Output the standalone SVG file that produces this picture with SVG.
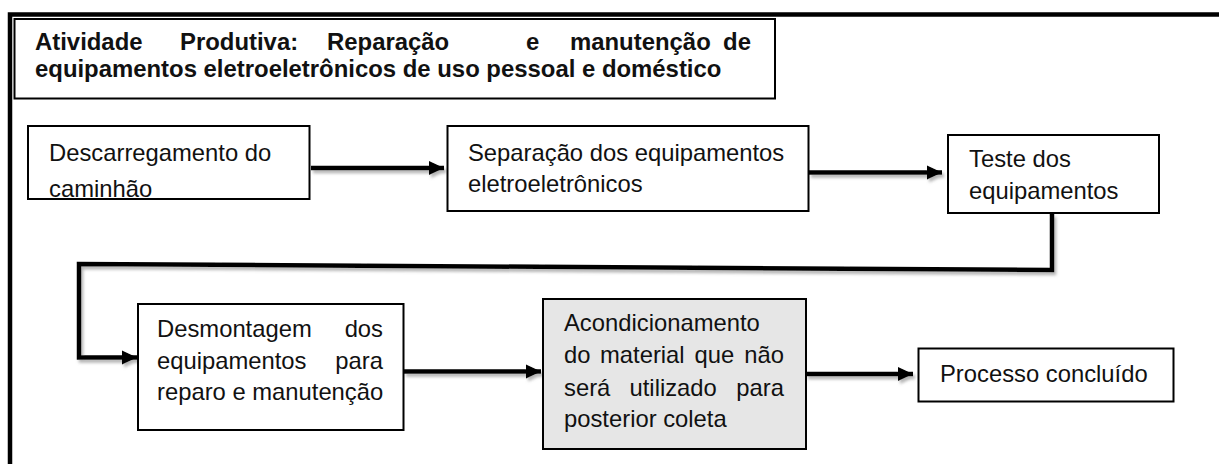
<svg xmlns="http://www.w3.org/2000/svg" width="1219" height="464" viewBox="0 0 1219 464">
<defs>
<style>
.box{fill:#fff;stroke:#000;stroke-width:2}
.gray{fill:#e6e6e6;stroke:#000;stroke-width:2}
.t{font-family:"Liberation Sans",Arial,sans-serif;font-size:23.8px;fill:#111}
.tb{font-family:"Liberation Sans",Arial,sans-serif;font-size:23.9px;font-weight:bold;fill:#111}
.con{fill:none;stroke:#000;stroke-width:4.5;stroke-linejoin:miter}
</style>
<marker id="ah" markerUnits="userSpaceOnUse" markerWidth="16" markerHeight="16" refX="15" refY="8" orient="auto">
<path d="M0,1 L15,8 L0,15 z" fill="#000"/>
</marker>
<filter id="sh" x="-5%" y="-20%" width="110%" height="160%">
<feDropShadow dx="2" dy="3" stdDeviation="1.5" flood-color="#777" flood-opacity="0.55"/>
</filter>
<clipPath id="c1"><rect x="28" y="127" width="281" height="70.5"/></clipPath>
</defs>
<g id="frame">
<path d="M10,464 V14.5 H1219" fill="none" stroke="#000" stroke-width="4.5"/>
</g>
<g id="title">
<rect x="14.5" y="19" width="760.5" height="79.5" class="box" stroke-width="1.8"/>
<text class="tb" y="50"><tspan x="35">Atividade</tspan><tspan x="180">Produtiva:</tspan><tspan x="327">Reparação</tspan><tspan x="526">e</tspan><tspan x="570">manutenção</tspan><tspan x="751" text-anchor="end">de</tspan></text>
<text class="tb" x="35" y="77">equipamentos eletroeletrônicos de uso pessoal e doméstico</text>
</g>
<g id="connectors" filter="url(#sh)">
<line class="con" x1="311" y1="168" x2="444" y2="168" marker-end="url(#ah)"/>
<line class="con" x1="809" y1="172.5" x2="942" y2="172.5" marker-end="url(#ah)"/>
<path class="con" d="M1052,214 V270 L79,264 V357.5 H137" marker-end="url(#ah)"/>
<line class="con" x1="404" y1="371.5" x2="541" y2="371.5" marker-end="url(#ah)"/>
<line class="con" x1="806" y1="374" x2="913" y2="374" marker-end="url(#ah)"/>
</g>
<g id="n1">
<rect x="28" y="126" width="281.5" height="73" class="box"/>
<g clip-path="url(#c1)">
<text class="t" x="49" y="161">Descarregamento do</text>
<text class="t" x="49" y="197">caminhão</text>
</g>
</g>
<g id="n2">
<rect x="447.5" y="126" width="361" height="85" class="box"/>
<text class="t" x="468" y="161">Separação dos equipamentos</text>
<text class="t" x="468" y="192">eletroeletrônicos</text>
</g>
<g id="n3">
<rect x="948" y="135" width="211" height="78" class="box"/>
<text class="t" x="969" y="166.5">Teste dos</text>
<text class="t" x="969" y="199">equipamentos</text>
</g>
<g id="n4">
<rect x="138" y="304" width="265.5" height="126" class="box"/>
<text class="t" y="336.5"><tspan x="157">Desmontagem</tspan><tspan x="383" text-anchor="end">dos</tspan></text>
<text class="t" y="368.5"><tspan x="157">equipamentos</tspan><tspan x="383" text-anchor="end">para</tspan></text>
<text class="t" x="157" y="400">reparo e manutenção</text>
</g>
<g id="n5">
<rect x="543" y="299" width="263" height="150" class="gray"/>
<text class="t" x="564" y="331">Acondicionamento</text>
<text class="t" y="363.3"><tspan x="564">do</tspan><tspan x="600">material</tspan><tspan x="694.5">que</tspan><tspan x="784" text-anchor="end">não</tspan></text>
<text class="t" y="395.5"><tspan x="564">será</tspan><tspan x="629.5">utilizado</tspan><tspan x="784" text-anchor="end">para</tspan></text>
<text class="t" x="564" y="426.7">posterior coleta</text>
</g>
<g id="n6">
<rect x="918.5" y="348.5" width="255" height="53" class="box"/>
<text class="t" x="940" y="381.7">Processo concluído</text>
</g>
</svg>
